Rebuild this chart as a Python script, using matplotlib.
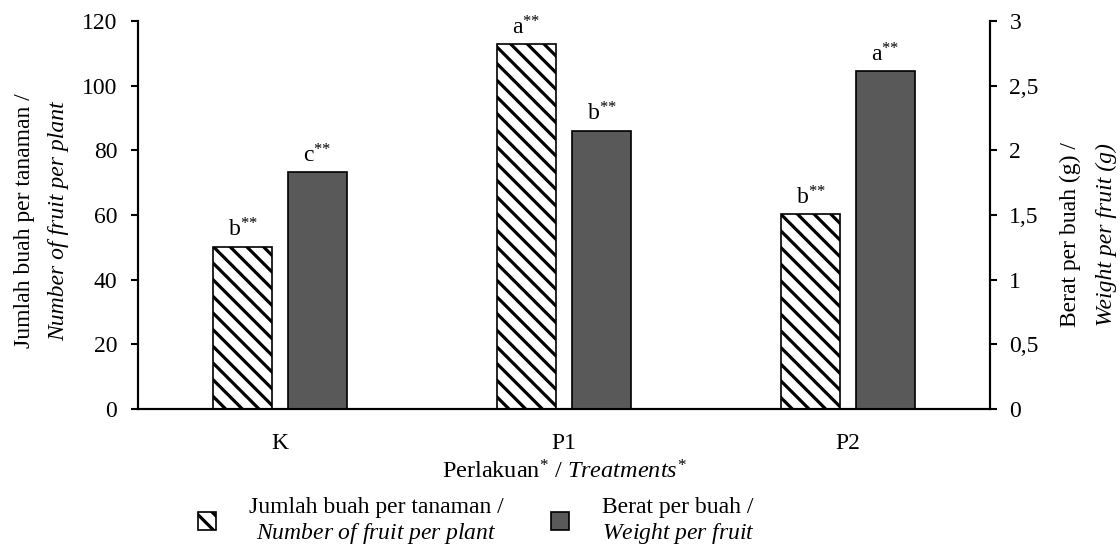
import matplotlib.pyplot as plt
import numpy as np

plt.rcParams['font.family'] = 'Liberation Serif'
plt.rcParams['mathtext.fontset'] = 'custom'
plt.rcParams['mathtext.rm'] = 'Liberation Serif'
plt.rcParams['mathtext.it'] = 'Liberation Serif:italic'
plt.rcParams['hatch.linewidth'] = 2.3

# data
categories = ['K', 'P1', 'P2']
fruit_count = [50.2, 112.8, 60.3]       # jumlah buah per tanaman (left axis)
fruit_weight = [1.83, 2.15, 2.61]       # berat per buah, g (right axis)
count_letters = ['b', 'a', 'b']
weight_letters = ['c', 'b', 'a']
left_ticks = [0, 20, 40, 60, 80, 100, 120]
right_ticks = [0, 0.5, 1, 1.5, 2, 2.5, 3]
right_ticklabels = ['0', '0,5', '1', '1,5', '2', '2,5', '3']

fs = 17
sup = '$^{{*}{*}}$'
fig = plt.figure(figsize=(11.2, 5.59), dpi=100)
ax = fig.add_axes([0.1232, 0.2683, 0.7607, 0.6941])
ax2 = ax.twinx()

x = np.arange(len(categories))
w = 0.21
off = 0.132

b1 = ax.bar(x - off, fruit_count, w, facecolor='white', edgecolor='black',
            hatch='\\\\', linewidth=1.2, label='Jumlah buah per tanaman /\n$\\mathit{Number\\ of\\ fruit\\ per\\ plant}$')
b2 = ax2.bar(x + off, fruit_weight, w, facecolor='#595959', edgecolor='black',
             linewidth=1.2, label='Berat per buah /\n$\\mathit{Weight\\ per\\ fruit}$')

for xi, v, l in zip(x, fruit_count, count_letters):
    ax.text(xi - off, v + 1.5, l + sup, ha='center', va='bottom', fontsize=fs)
for xi, v, l in zip(x, fruit_weight, weight_letters):
    ax2.text(xi + off, v + 0.04, l + sup, ha='center', va='bottom', fontsize=fs)

ax.set_xlim(-0.5, 2.5)
ax.set_ylim(0, 120)
ax2.set_ylim(0, 3)
ax.set_yticks(left_ticks)
ax2.set_yticks(right_ticks)
ax2.set_yticklabels(right_ticklabels)
ax.set_xticks(x)
ax.set_xticklabels(categories)

for a in (ax, ax2):
    a.spines['top'].set_visible(False)
    for s in ('left', 'right', 'bottom'):
        a.spines[s].set_linewidth(1.5)
ax.tick_params(axis='y', labelsize=fs, width=1.5, length=5, pad=10)
ax.tick_params(axis='x', labelsize=fs, length=0, pad=17)
ax2.tick_params(axis='y', labelsize=fs, width=1.5, length=5, pad=9)

ax.set_xlabel('Perlakuan$^{*}$ / $\\mathit{Treatments}^{*}$', fontsize=17.5, labelpad=5)

fig.text(0.022, 0.605, 'Jumlah buah per tanaman /', rotation=90, fontsize=fs,
         ha='center', va='center')
fig.text(0.052, 0.605, 'Number of fruit per plant', rotation=90, fontsize=fs,
         style='italic', ha='center', va='center')
fig.text(0.956, 0.58, 'Berat per buah (g) /', rotation=90, fontsize=fs,
         ha='center', va='center')
fig.text(0.988, 0.58, 'Weight per fruit (g)', rotation=90, fontsize=fs,
         style='italic', ha='center', va='center')

leg = fig.legend(handles=[b1, b2], loc='lower left', bbox_to_anchor=(0.158, -0.015),
                 ncol=2, frameon=False, fontsize=fs, handlelength=0.75, handleheight=0.75,
                 columnspacing=2.0, handletextpad=1.4)
for t in leg.get_texts():
    t.set_multialignment('center')

fig.savefig('out.png', dpi=100)
